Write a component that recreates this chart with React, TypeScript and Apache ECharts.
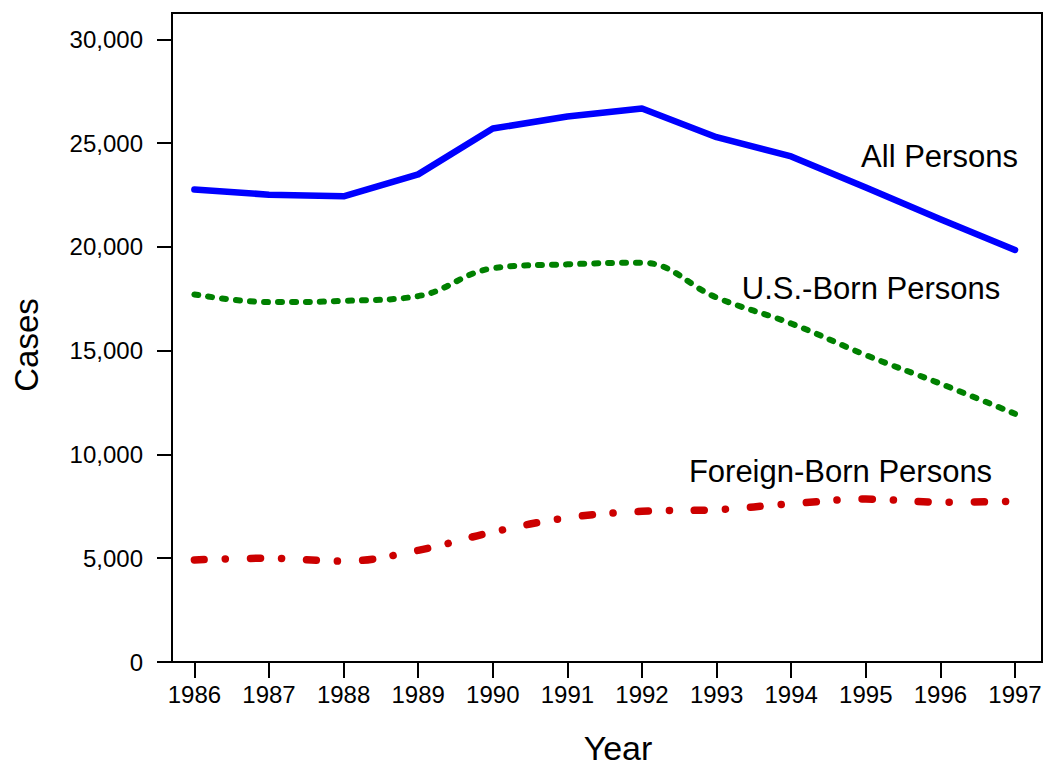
import React, { useEffect, useRef } from "react";
import * as echarts from "echarts";

const years = [1986, 1987, 1988, 1989, 1990, 1991, 1992, 1993, 1994, 1995, 1996, 1997];
const allPersons = [22768, 22517, 22436, 23495, 25701, 26283, 26673, 25287, 24361, 22860, 21337, 19855];
const usBorn = [17710, 17340, 17400, 17630, 18970, 19160, 19240, 17560, 16310, 14790, 13410, 11960];
const foreignBorn = [4920, 5000, 4860, 5380, 6260, 6950, 7260, 7340, 7625, 7850, 7700, 7740];
const yTicks = [0, 5000, 10000, 15000, 20000, 25000, 30000];
const seriesNames = ["All Persons", "U.S.-Born Persons", "Foreign-Born Persons"];

const FONT = '"Liberation Sans", Arial, Helvetica, sans-serif';

export default function App() {
  const ref = useRef<HTMLDivElement>(null);
  useEffect(() => {
    if (!ref.current) return;
    const chart = echarts.init(ref.current, undefined, { renderer: "svg" });
    const pairs = (vals: number[]) => years.map((y, i) => [y, vals[i]]);
    chart.setOption({
      animation: false,
      backgroundColor: "#fff",
      grid: {
        left: 172,
        right: 3,
        top: 13,
        bottom: 106,
        show: true,
        borderColor: "#000",
        borderWidth: 2,
        backgroundColor: "transparent",
      },
      xAxis: {
        type: "value",
        min: 1985.7,
        max: 1997.362,
        splitLine: { show: false },
        axisLine: { show: true, lineStyle: { color: "#000", width: 2 } },
        axisTick: {
          show: true,
          length: 16,
          inside: false,
          lineStyle: { color: "#000", width: 2 },
          customValues: years,
        },
        axisLabel: {
          customValues: years,
          formatter: (v: number) => String(Math.round(v)),
          color: "#000",
          fontSize: 24,
          fontFamily: FONT,
          margin: 20,
        },
      },
      yAxis: {
        type: "value",
        min: 0,
        max: 31270,
        splitLine: { show: false },
        axisLine: { show: true, lineStyle: { color: "#000", width: 2 } },
        axisTick: {
          show: true,
          length: 15,
          inside: false,
          lineStyle: { color: "#000", width: 2 },
          customValues: yTicks,
        },
        axisLabel: {
          customValues: yTicks,
          formatter: (v: number) => Math.round(v).toLocaleString("en-US"),
          color: "#000",
          fontSize: 24,
          fontFamily: FONT,
          margin: 29,
        },
      },
      series: [
        {
          name: seriesNames[0],
          type: "line",
          data: pairs(allPersons),
          showSymbol: false,
          symbol: "none",
          smooth: false,
          lineStyle: { color: "#0000ff", width: 6.5, cap: "round", join: "round" },
        },
        {
          name: seriesNames[1],
          type: "line",
          data: pairs(usBorn),
          showSymbol: false,
          symbol: "none",
          smooth: 0.4,
          lineStyle: { color: "#008000", width: 6, type: [4, 10], cap: "round" },
        },
        {
          name: seriesNames[2],
          type: "line",
          data: pairs(foreignBorn),
          showSymbol: false,
          symbol: "none",
          smooth: 0.4,
          lineStyle: { color: "#cc0000", width: 7.5, type: [10, 21, 0.1, 25], cap: "round" },
        },
      ],
      graphic: [
        {
          type: "text",
          x: 939.5,
          y: 156,
          style: { text: seriesNames[0], font: `31px ${FONT}`, fill: "#000", align: "center", verticalAlign: "middle" },
        },
        {
          type: "text",
          x: 871,
          y: 288,
          style: { text: seriesNames[1], font: `31px ${FONT}`, fill: "#000", align: "center", verticalAlign: "middle" },
        },
        {
          type: "text",
          x: 840.5,
          y: 471,
          style: { text: seriesNames[2], font: `31px ${FONT}`, fill: "#000", align: "center", verticalAlign: "middle" },
        },
        {
          type: "text",
          x: 26,
          y: 345,
          rotation: Math.PI / 2,
          style: { text: "Cases", font: `33px ${FONT}`, fill: "#000", align: "center", verticalAlign: "middle" },
        },
        {
          type: "text",
          x: 618,
          y: 748,
          style: { text: "Year", font: `34px ${FONT}`, fill: "#000", align: "center", verticalAlign: "middle" },
        },
      ],
    });
    return () => chart.dispose();
  }, []);
  return (
    <div
      ref={ref}
      style={{ position: "fixed", left: 0, top: 0, width: 1045, height: 768, background: "#fff" }}
    />
  );
}
